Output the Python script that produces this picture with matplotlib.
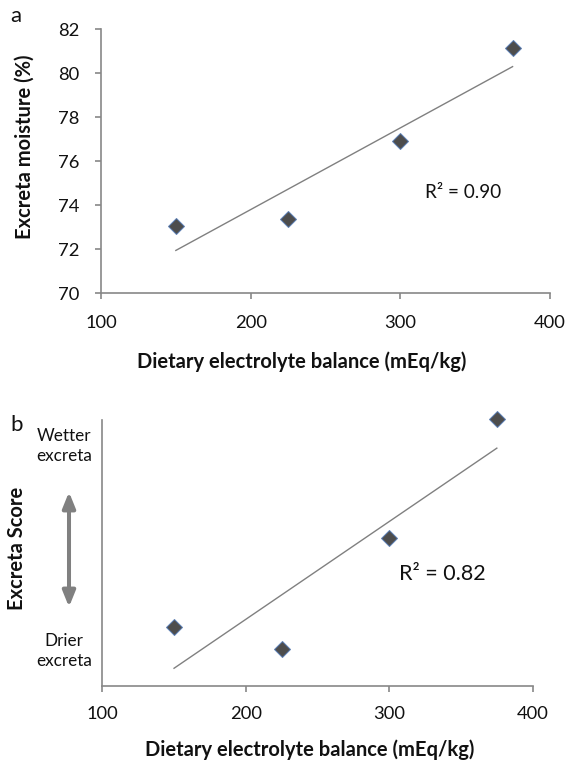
import numpy as np
import matplotlib
matplotlib.use("Agg")
import matplotlib.pyplot as plt
from matplotlib.patches import FancyArrowPatch

plt.rcParams['font.family'] = ['Lato', 'DejaVu Sans']

# Data
deb = [150, 225, 300, 375]
moisture = [73.05, 73.35, 76.9, 81.15]
score = [2.67, 1.67, 6.69, 12.03]   # arbitrary excreta score units
xticks = [100, 200, 300, 400]
yticks_a = [70, 72, 74, 76, 78, 80, 82]
r2_a = "R² = 0.90"
r2_b = "R² = 0.82"

W, H = 569, 761
fig = plt.figure(figsize=(W / 100, H / 100), dpi=100)

spine_c = '#878787'
mk_face = '#4d4d4d'
mk_edge = '#5b7fb5'
line_c = '#808080'
txt_c = '#111111'
TS = 13.2   # tick label size
LS = 14.5   # axis title size


def fx(px):
    return px / W


def fy(py):
    return 1 - py / H


def style(ax):
    for s in ['top', 'right']:
        ax.spines[s].set_visible(False)
    for s in ['left', 'bottom']:
        ax.spines[s].set_color(spine_c)
        ax.spines[s].set_linewidth(1.2)
    ax.tick_params(colors=spine_c, labelcolor=txt_c, labelsize=TS, length=4.3, width=1.2)


# Panel a
axa = fig.add_axes([fx(101), fy(293), 449 / W, 264 / H])
style(axa)
axa.set_xlim(100, 400)
axa.set_ylim(70, 82)
axa.set_xticks(xticks)
axa.set_yticks(yticks_a)
axa.tick_params(axis='x', pad=11.8)
axa.tick_params(axis='y', pad=11.5)
p = np.polyfit(deb, moisture, 1)
xx = np.array([deb[0], deb[-1]])
axa.plot(xx, np.polyval(p, xx), color=line_c, lw=1.0)
axa.plot(deb, moisture, 'D', ms=8.2, mfc=mk_face, mec=mk_edge, mew=0.7, clip_on=False, zorder=3)
axa.text(316.5, 74.55, r2_a, fontsize=13.6, color=txt_c, va='center', ha='left')
fig.text(fx(25), fy(147), "Excreta moisture (%)", fontsize=LS, fontweight='bold', color=txt_c,
         rotation=90, ha='center', va='center')
fig.text(fx(302), fy(362), "Dietary electrolyte balance (mEq/kg)", fontsize=LS, fontweight='bold',
         color=txt_c, ha='center', va='center')
fig.text(fx(10), fy(16), "a", fontsize=16, color=txt_c, va='center', ha='left')

# Panel b
axb = fig.add_axes([fx(102.3), fy(686), 430.4 / W, 266 / H])
style(axb)
axb.set_xlim(100, 400)
axb.set_ylim(0, 12)
axb.set_xticks(xticks)
axb.set_yticks([])
axb.tick_params(axis='x', pad=10.4)
p2 = np.polyfit(deb, score, 1)
axb.plot(xx, np.polyval(p2, xx), color=line_c, lw=1.0)
axb.plot(deb, score, 'D', ms=8.2, mfc=mk_face, mec=mk_edge, mew=0.7, clip_on=False, zorder=3)
axb.text(306.8, 5.05, r2_b, fontsize=15.5, color=txt_c, va='center', ha='left')
fig.text(fx(310), fy(750), "Dietary electrolyte balance (mEq/kg)", fontsize=LS, fontweight='bold',
         color=txt_c, ha='center', va='center')
fig.text(fx(10), fy(425), "b", fontsize=16, color=txt_c, va='center', ha='left')

fig.text(fx(64), fy(446), "Wetter\nexcreta", fontsize=12.3, color=txt_c, ha='center', va='center',
         linespacing=1.3)
fig.text(fx(64), fy(651), "Drier\nexcreta", fontsize=12.3, color=txt_c, ha='center', va='center',
         linespacing=1.3)
fig.text(fx(17), fy(548), "Excreta Score", fontsize=LS, fontweight='bold', color=txt_c,
         ha='center', va='center', rotation=90)
fig.patches.append(FancyArrowPatch(
    (fx(69), fy(492)), (fx(69), fy(607)), transform=fig.transFigure,
    arrowstyle='<|-|>,head_length=9.4,head_width=3.8', color='#808080', lw=2.9,
    mutation_scale=1, shrinkA=0, shrinkB=0))

fig.savefig("out.png", dpi=100)
